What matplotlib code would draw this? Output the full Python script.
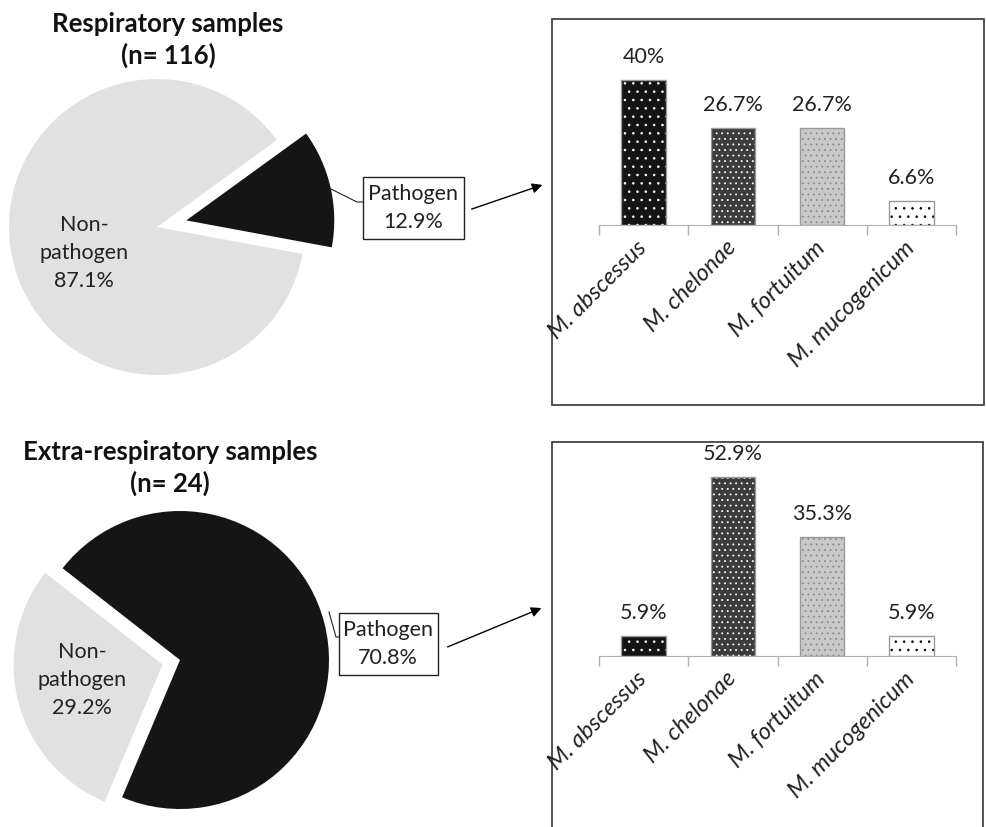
import matplotlib
matplotlib.use('Agg')
import matplotlib.pyplot as plt
from matplotlib.patches import Rectangle

plt.rcParams['font.family'] = ['Lato', 'DejaVu Sans']
plt.rcParams['hatch.linewidth'] = 0.6

species = ['M. abscessus', 'M. chelonae', 'M. fortuitum', 'M. mucogenicum']
resp_pct = [40, 26.7, 26.7, 6.6]
extra_pct = [5.9, 52.9, 35.3, 5.9]

resp_split = [12.9, 87.1]    # pathogen, non-pathogen
extra_split = [29.2, 70.8]   # non-pathogen, pathogen

fills = ['#141414', '#3c3c3c', '#c9c9c9', '#ffffff']
dots = ['white', 'white', '#8a8a8a', 'black']
hatches = ['..', '...', '...', '..']
BLACK = '#151515'
GREY = '#e1e1e1'
H = 827
FS = 15.5

fig = plt.figure(figsize=(9.86, 8.27), dpi=100)
ax0 = fig.add_axes([0, 0, 1, 1])

# pies (explode is in data units here, i.e. pixels)
ax0.pie(resp_split, colors=[BLACK, GREY], explode=[30, 0], startangle=-10.5,
        center=(157, H - 227), radius=148, frame=True,
        wedgeprops=dict(linewidth=0))
ax0.pie(extra_split, colors=[GREY, BLACK], explode=[18, 0], startangle=142,
        center=(180, H - 660), radius=149, frame=True,
        wedgeprops=dict(linewidth=0))
ax0.set_xlim(0, 986)
ax0.set_ylim(0, H)
ax0.set_aspect('auto')
ax0.axis('off')

ax0.text(168, H - 40, 'Respiratory samples\n(n= 116)', ha='center', va='center',
         fontsize=18.5, fontweight='bold', linespacing=1.3, color='#111')
ax0.text(170, H - 468, 'Extra-respiratory samples\n(n= 24)', ha='center', va='center',
         fontsize=18.5, fontweight='bold', linespacing=1.3, color='#111')

ax0.text(84, H - 253, f'Non-\npathogen\n{resp_split[1]}%', ha='center', va='center',
         fontsize=FS, linespacing=1.5, color='#222')
ax0.text(82, H - 680, f'Non-\npathogen\n{extra_split[0]}%', ha='center', va='center',
         fontsize=FS, linespacing=1.5, color='#222')

# callout boxes, leader lines and arrows
ax0.add_patch(Rectangle((363, H - 239), 101, 62, fill=False, ec='#222', lw=1))
ax0.text(413, H - 208, f'Pathogen\n{resp_split[0]}%', ha='center', va='center',
         fontsize=FS, linespacing=1.5, color='#222')
ax0.plot([331, 357, 363], [H - 189, H - 202, H - 202], color='#222', lw=0.8)
ax0.annotate('', xy=(545, H - 184), xytext=(469, H - 210),
             arrowprops=dict(arrowstyle='-|>', color='black', lw=1, mutation_scale=15))

ax0.add_patch(Rectangle((339, H - 675), 99, 62, fill=False, ec='#222', lw=1))
ax0.text(388, H - 644, f'Pathogen\n{extra_split[1]}%', ha='center', va='center',
         fontsize=FS, linespacing=1.5, color='#222')
ax0.plot([329, 336, 339], [H - 612, H - 637, H - 637], color='#222', lw=0.8)
ax0.annotate('', xy=(544, H - 607), xytext=(445, H - 648),
             arrowprops=dict(arrowstyle='-|>', color='black', lw=1, mutation_scale=15))

# frames around the bar panels
ax0.add_patch(Rectangle((552, H - 405), 432, 386, fill=False, ec='#333', lw=1.2))
ax0.add_patch(Rectangle((552, -5), 431, H - 442 + 5, fill=False, ec='#333', lw=1.2))


def draw_bars(rect, vals, ymax):
    ax = fig.add_axes(rect)
    ax.set_facecolor('none')
    for i, v in enumerate(vals):
        ax.bar(i, v, width=0.5, color=fills[i], edgecolor=dots[i], hatch=hatches[i], linewidth=0)
        ax.bar(i, v, width=0.5, fill=False, edgecolor='#9a9a9a', linewidth=1)
        ax.annotate(f'{v:g}%', (i, v), xytext=(0, 16.5), textcoords='offset points',
                    ha='center', va='center', fontsize=FS, color='#222')
    ax.set_xlim(-0.5, 3.5)
    ax.set_ylim(0, ymax)
    for s in ['top', 'right', 'left']:
        ax.spines[s].set_visible(False)
    ax.spines['bottom'].set_color('#b0b0b0')
    ax.set_yticks([])
    ax.set_xticks(range(len(vals)))
    ax.set_xticklabels(species, rotation=45, ha='right', va='center', rotation_mode='anchor',
                       fontstyle='italic', fontsize=17, color='#222')
    ax.set_xticks([-0.5, 0.5, 1.5, 2.5, 3.5], minor=True)
    ax.tick_params(axis='x', which='major', length=0, pad=14)
    ax.tick_params(axis='x', which='minor', length=7, color='#b0b0b0', width=1)
    return ax


draw_bars([599 / 986, (H - 225) / H, 357 / 986, 163 / H], resp_pct, 45)
draw_bars([599 / 986, (H - 656) / H, 357 / 986, 203 / H], extra_pct, 60)

fig.savefig('out.png', dpi=100)
